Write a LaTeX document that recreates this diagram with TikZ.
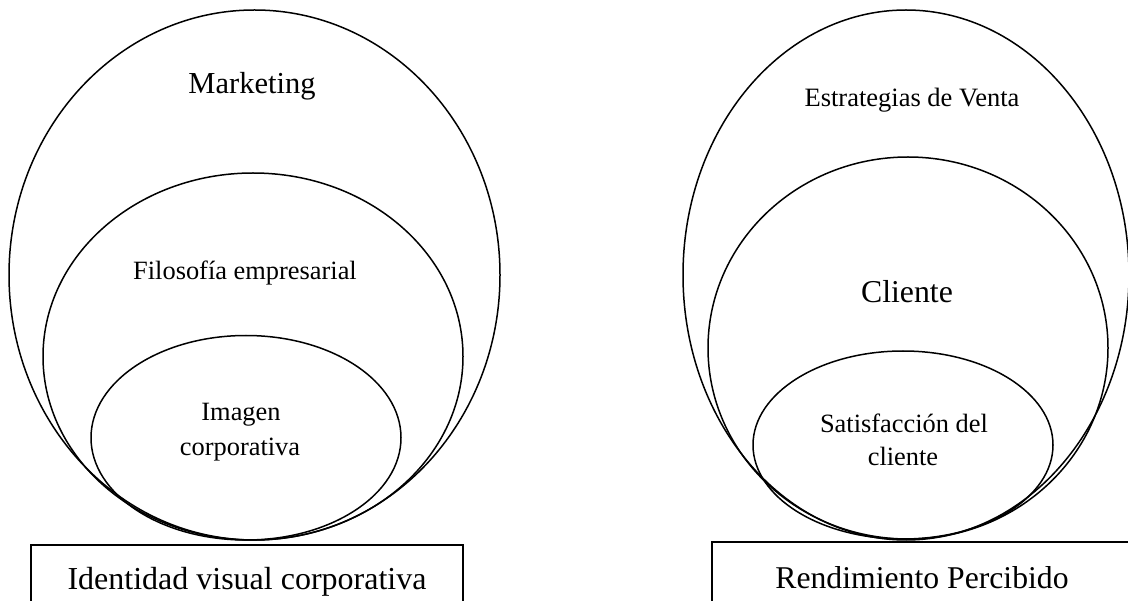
\documentclass[tikz,border=0pt]{standalone}
\usepackage{fontspec}
\setmainfont{Liberation Serif}
\usetikzlibrary{shapes.geometric}
\begin{document}
\begin{tikzpicture}[x=1pt,y=-1pt,
  ring/.style={draw,ellipse,line width=1.5pt,inner sep=0pt,minimum width=#1},
  lbl/.style={anchor=base,inner sep=0pt},
  frame/.style={draw,line width=1.3pt}]
\clip (0,0) rectangle (1128,601);
% left group
\node[ring=491pt,minimum height=530pt] (L1) at (254.5,275) {};
\node[ring=420pt,minimum height=367pt] (L2) at (253,356.5) {};
\node[ring=310pt,minimum height=204.5pt] (L3) at (246,437.75) {};
\node[lbl,font=\fontsize{30.5}{36}\selectfont] (t1) at (252,94) {Marketing};
\node[lbl,font=\fontsize{26.4}{31}\selectfont] (t2) at (245,280) {Filosofía empresarial};
\node[lbl,font=\fontsize{26.4}{31}\selectfont] (t3) at (241,421) {Imagen};
\node[lbl,font=\fontsize{26.4}{31}\selectfont] (t4) at (240,455.5) {corporativa};
\draw[frame] (31,605) |- (463,545) -- (463,605);
\node[lbl,font=\fontsize{32}{38}\selectfont] (t5) at (247,589) {Identidad visual corporativa};
% right group
\node[ring=446pt,minimum height=530pt] (R1) at (906,275) {};
\node[ring=400pt,minimum height=382pt] (R2) at (908,348) {};
\node[ring=300pt,minimum height=188pt] (R3) at (903,445) {};
\node[lbl,font=\fontsize{26.5}{31}\selectfont] (s1) at (912,107) {Estrategias de Venta};
\node[lbl,font=\fontsize{31.8}{38}\selectfont] (s2) at (907,303) {Cliente};
\node[lbl,font=\fontsize{26.4}{31}\selectfont] (s3) at (904,433) {Satisfacción del};
\node[lbl,font=\fontsize{26.4}{31}\selectfont] (s4) at (903,466) {cliente};
\draw[frame] (712,605) |- (1140,542);
\node[lbl,font=\fontsize{31.7}{38}\selectfont] (s5) at (922,588) {Rendimiento Percibido};
\end{tikzpicture}
\end{document}
